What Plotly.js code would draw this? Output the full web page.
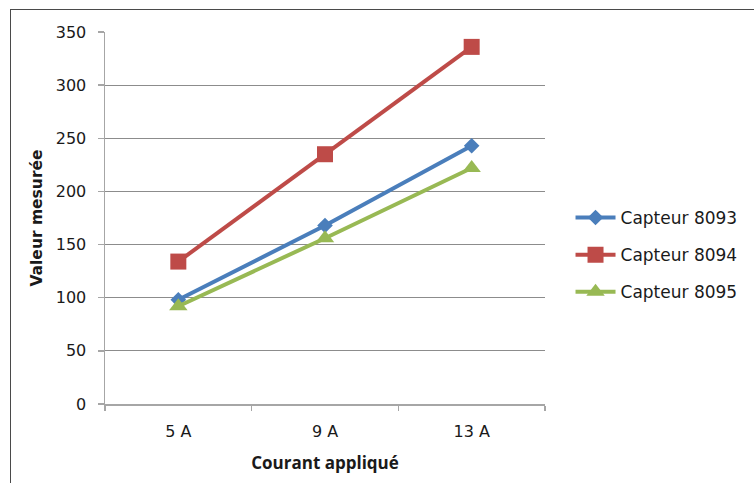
<!DOCTYPE html>
<html>
<head>
<meta charset="utf-8">
<script src="https://cdn.plot.ly/plotly-3.0.1.min.js"></script>
<style>
  html, body { margin: 0; padding: 0; background: #fff; }
  #wrap { position: relative; width: 754px; height: 483px; overflow: hidden; }
  #chart { position: absolute; left: 0; top: 0; width: 754px; height: 483px; }
  #frame { position: absolute; left: 10px; top: 9px; width: 760px; height: 490px;
           border: 1px solid #4a4a4a; pointer-events: none; }
</style>
</head>
<body>
<div id="wrap">
  <div id="chart"></div>
  <div id="frame"></div>
</div>
<script>
// Mesures des capteurs selon le courant appliqué
const categories = ['5 A', '9 A', '13 A'];
const capteur8093 = [98, 168, 243];
const capteur8094 = [134, 235, 336];
const capteur8095 = [92, 156, 222];
const seriesNames = ['Capteur 8093', 'Capteur 8094', 'Capteur 8095'];
const yTicks = [0, 50, 100, 150, 200, 250, 300, 350];

const FONT = '"DejaVu Sans", Verdana, sans-serif';
const TITLE_X_FONT = '"Open Sans", "Noto Sans", sans-serif';
const TEXT = '#1a1a1a';

function serie(name, values, color, symbol, size, group) {
  return {
    type: 'scatter', mode: 'lines+markers', name: name,
    x: categories, y: values, legendgroup: group,
    line: { color: color, width: 4 },
    marker: { color: color, symbol: symbol, size: size, line: { width: 0 } }
  };
}

const data = [
  serie(seriesNames[0], capteur8093, '#4a7ebb', 'diamond', 12, 'a'),
  serie(seriesNames[1], capteur8094, '#be4b48', 'square', 16, 'b'),
  serie(seriesNames[2], capteur8095, '#98b954', 'triangle-up', 16, 'c')
];

const layout = {
  width: 754, height: 483,
  margin: { l: 105, r: 209, t: 32, b: 79 },
  paper_bgcolor: '#ffffff', plot_bgcolor: '#ffffff',
  font: { family: FONT, size: 16, color: TEXT },
  showlegend: true,
  legend: {
    x: 1.058, y: 0.4006, xanchor: 'left', yanchor: 'middle',
    font: { family: FONT, size: 17, color: TEXT },
    tracegroupgap: 12, itemwidth: 40, bgcolor: 'rgba(0,0,0,0)'
  },
  xaxis: {
    type: 'category', categoryarray: categories,
    range: [-0.5, 2.5],
    showgrid: false, zeroline: false,
    showline: true, linecolor: '#a6a6a6', linewidth: 1.5,
    ticks: 'outside', tickson: 'boundaries', ticklen: 5, tickcolor: '#a6a6a6', tickwidth: 1.5,
    ticklabelstandoff: 12,
    tickfont: { family: FONT, size: 16, color: TEXT },
    title: { text: '<b>Courant appliqué</b>', standoff: 17,
             font: { family: TITLE_X_FONT, size: 17, color: TEXT } }
  },
  yaxis: {
    range: [0, 350], tickvals: yTicks, ticktext: yTicks.map(String),
    showgrid: true, gridcolor: '#8c8c8c', gridwidth: 1,
    zeroline: false,
    showline: true, linecolor: '#a6a6a6', linewidth: 1.5,
    ticks: 'outside', ticklen: 6, tickcolor: '#a6a6a6', tickwidth: 1.5,
    ticklabelstandoff: 8,
    tickfont: { family: FONT, size: 16, color: TEXT },
    title: { text: '<b>Valeur mesurée</b>', standoff: 9,
             font: { family: FONT, size: 15.5, color: TEXT } }
  }
};

Plotly.newPlot('chart', data, layout, { displayModeBar: false, staticPlot: true });
</script>
</body>
</html>
